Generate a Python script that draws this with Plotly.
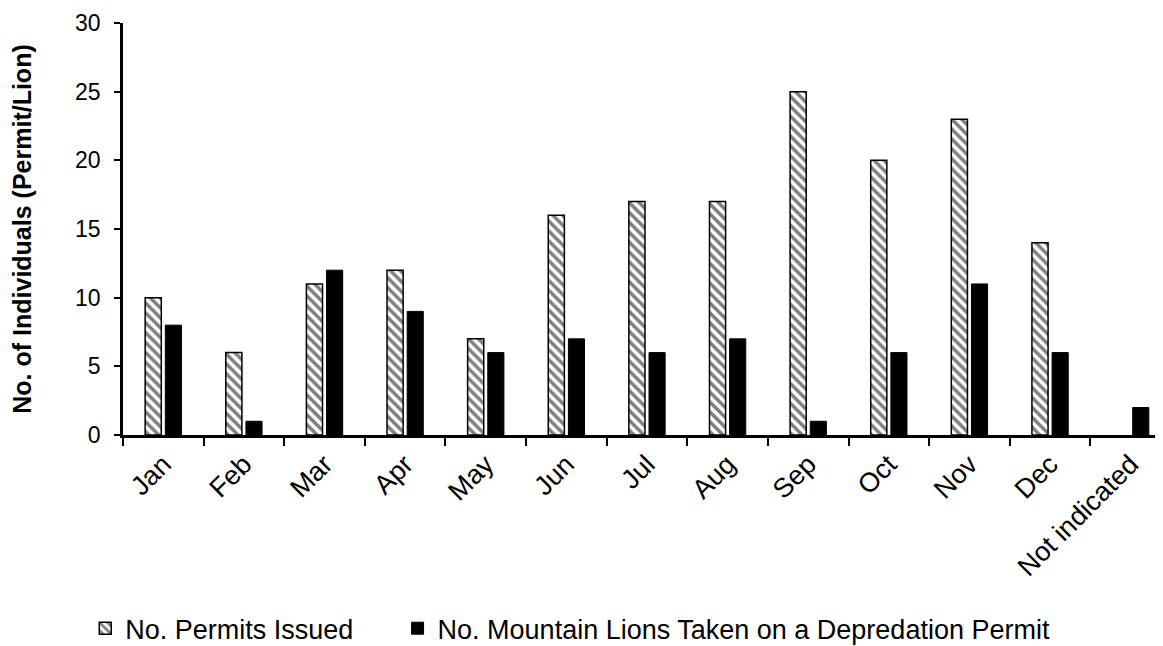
import plotly.graph_objects as go

categories = ["Jan", "Feb", "Mar", "Apr", "May", "Jun", "Jul", "Aug", "Sep", "Oct", "Nov", "Dec", "Not indicated"]
permits = [10, 6, 11, 12, 7, 16, 17, 17, 25, 20, 23, 14, None]
lions = [8, 1, 12, 9, 6, 7, 6, 7, 1, 6, 11, 6, 2]

FONT = "Liberation Sans, Arial, sans-serif"

fig = go.Figure()
fig.add_trace(go.Bar(
    x=categories, y=permits, name="No. Permits Issued", legend="legend",
    marker=dict(color="white", line=dict(color="black", width=1.5),
                pattern=dict(shape="\\", fgcolor="black", bgcolor="white", size=7, solidity=0.5)),
))
fig.add_trace(go.Bar(
    x=categories, y=lions, name="No. Mountain Lions Taken on a Depredation Permit", legend="legend2",
    marker=dict(color="black", line=dict(color="black", width=1)),
))

leg_common = dict(orientation="h", xanchor="left", y=-0.47, yanchor="middle",
                  font=dict(size=27, family=FONT, color="black"), itemwidth=30,
                  bgcolor="rgba(0,0,0,0)")

fig.update_layout(
    width=1163, height=646,
    margin=dict(l=115, r=0, t=15, b=219),
    paper_bgcolor="white", plot_bgcolor="white",
    barmode="group", bargap=0.5, bargroupgap=0.2,
    font=dict(family=FONT, size=25, color="black"),
    showlegend=True,
    legend=dict(x=-0.036, **leg_common),
    legend2=dict(x=0.262, **leg_common),
)
fig.update_xaxes(
    type="category", showline=True, linecolor="black", linewidth=2.5,
    ticks="outside", tickson="boundaries", ticklen=8, tickwidth=2, tickcolor="black",
    tickangle=-45, tickfont=dict(size=27, family=FONT, color="black"), showgrid=False,
    automargin=False,
)
fig.update_yaxes(
    range=[0, 30], dtick=5, showline=True, linecolor="black", linewidth=2.5,
    ticks="outside", ticklen=6, tickwidth=2, tickcolor="black",
    tickfont=dict(size=23, family=FONT, color="black"), showgrid=False, zeroline=False,
    automargin=False, ticklabeloverflow="allow", ticklabelstandoff=9,
    title=dict(text="<b>No. of Individuals (Permit/Lion)</b>", font=dict(size=25, family=FONT, color="black"), standoff=38),
)

fig.write_html("out.html")
